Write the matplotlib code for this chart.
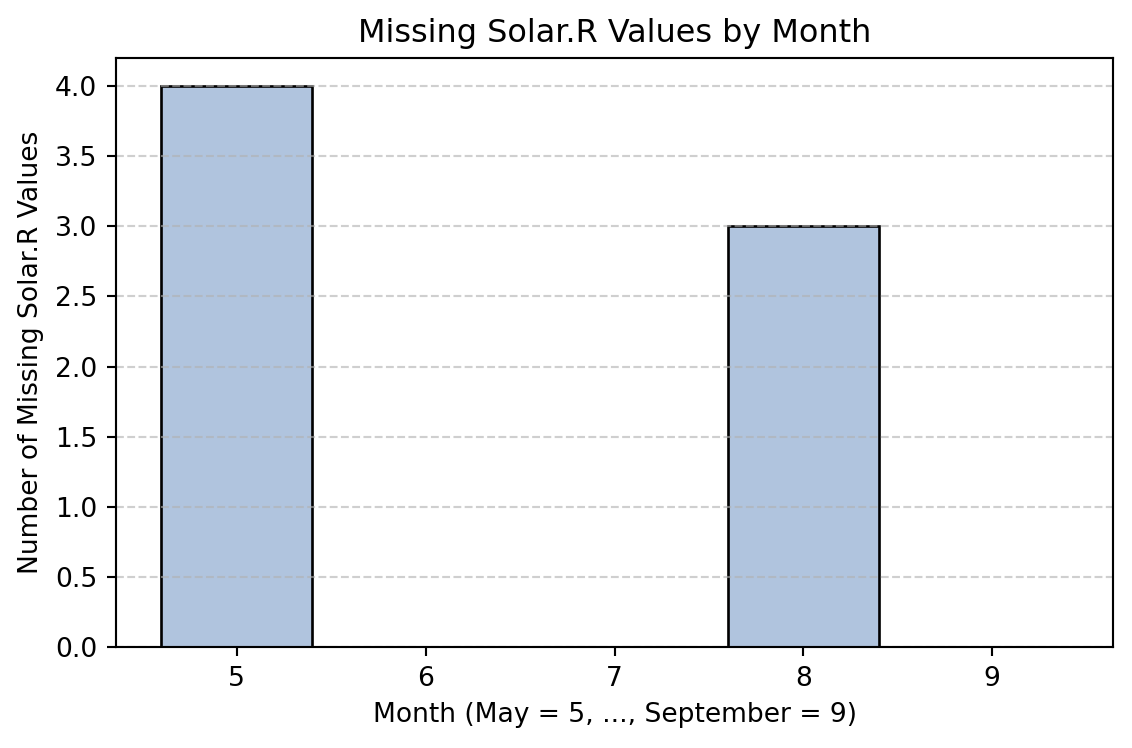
import numpy as np
import matplotlib
matplotlib.use('Agg')
import matplotlib.pyplot as plt

# Missing Solar.R counts per month
months = [5, 6, 7, 8, 9]
missing_counts = [4, 0, 0, 3, 0]

dpi = 191
fig, ax = plt.subplots(figsize=(1132 / dpi, 748 / dpi), dpi=dpi)
ax.bar(months, missing_counts, color='lightsteelblue', edgecolor='black', width=0.8)
ax.set_xticks(months)
ax.set_title("Missing Solar.R Values by Month")
ax.set_xlabel("Month (May = 5, ..., September = 9)")
ax.set_ylabel("Number of Missing Solar.R Values")
# grid stays on top of the bars, as in the original
ax.grid(axis='y', linestyle='--', alpha=0.6)

fig.subplots_adjust(left=116 / 1132, right=1113 / 1132, top=1 - 58 / 748, bottom=1 - 647 / 748)
plt.savefig('out.png', dpi=dpi)
